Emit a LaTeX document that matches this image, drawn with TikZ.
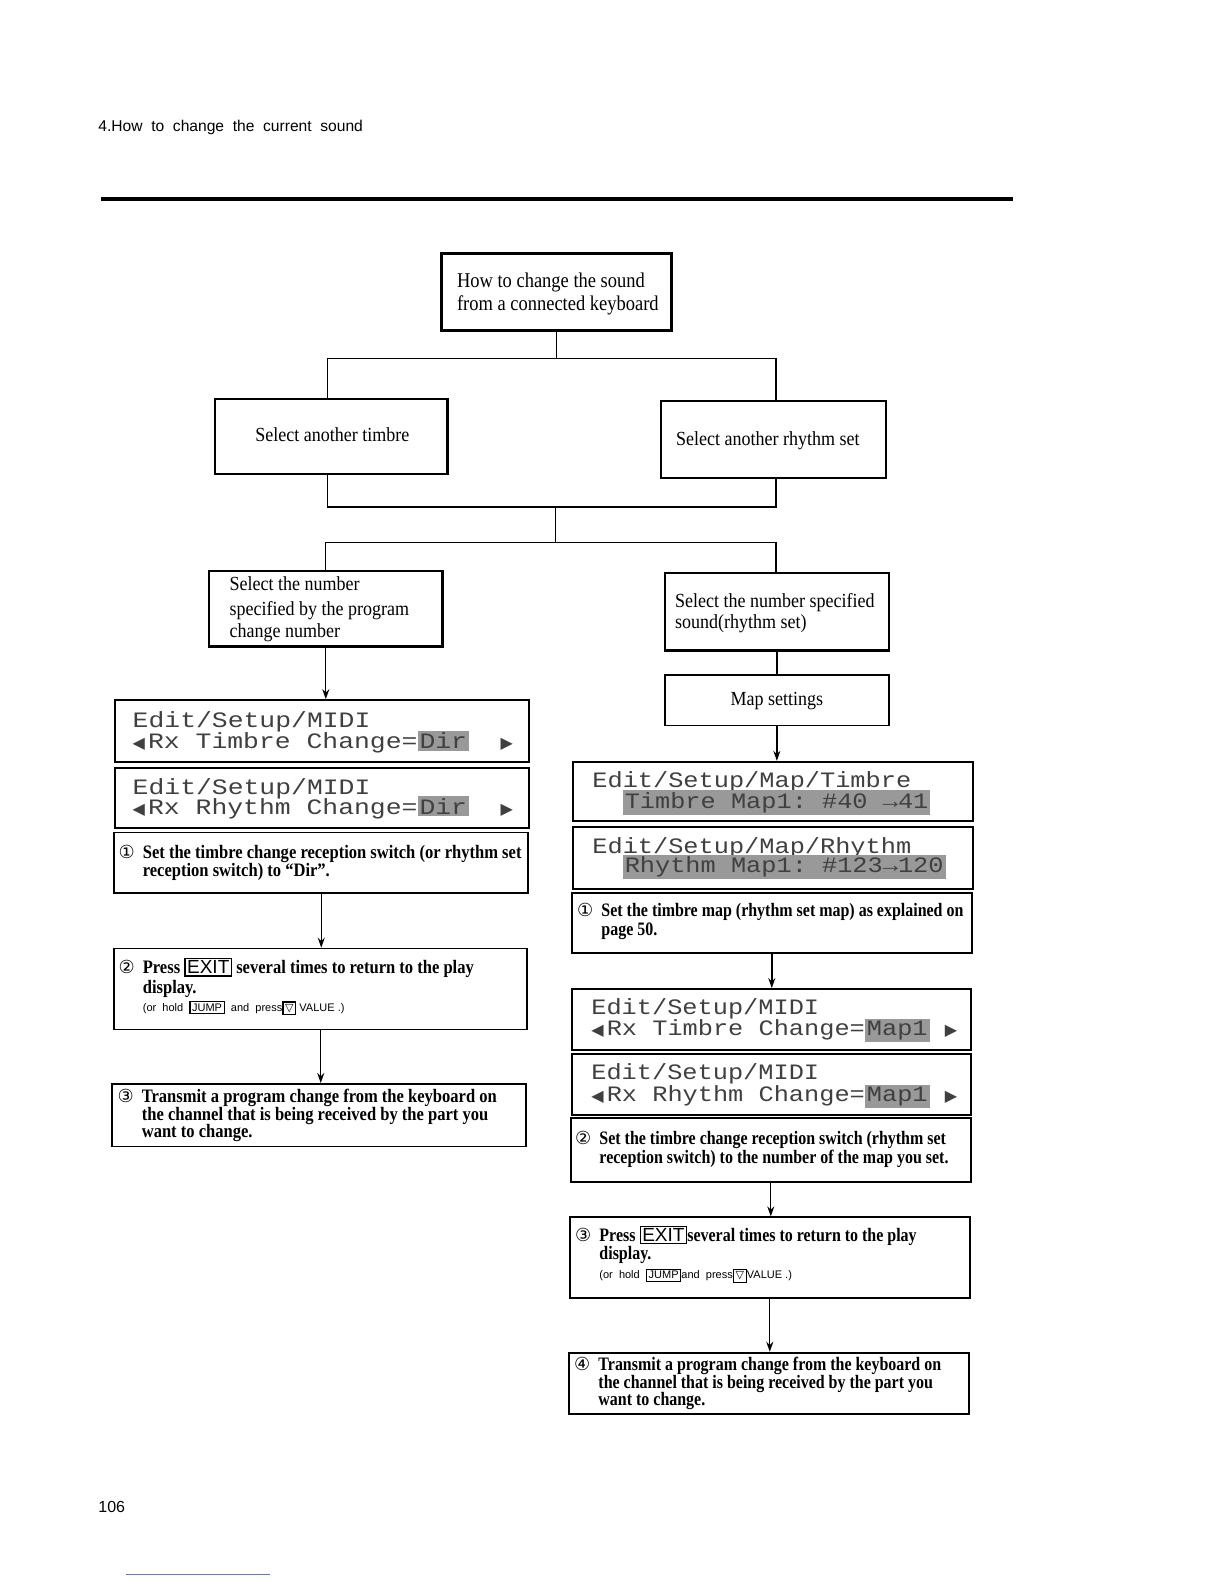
\documentclass[tikz,border=0pt]{standalone}
\usepackage{fontspec}
\setmainfont{Liberation Serif}
\newfontfamily\cserif[FakeStretch=0.9]{Liberation Serif}
\newfontfamily\tserif[FakeStretch=0.88]{Liberation Serif}
\newfontfamily\bserif[FakeStretch=0.87]{Liberation Serif}
\newfontfamily\bserifR[FakeStretch=0.84]{Liberation Serif}
\newfontfamily\lcdfont[FakeStretch=1.2]{Liberation Mono}
\newfontfamily\lcdfontR[FakeStretch=1.15]{Liberation Mono}
\newfontfamily\dv{DejaVu Sans}
\newfontfamily\hsans{Liberation Sans}
\usetikzlibrary{arrows.meta,fit}
\newcommand\lcdL{\makebox[0.7em][l]{\dv\fontsize{8}{8}\selectfont ◀}}
\newcommand\lcdR{\makebox[0.7em][l]{\dv\fontsize{8}{8}\selectfont ▶}}
\newcommand\hl[1]{{\setlength\fboxsep{1pt}\colorbox{black!40}{#1}}}
\newcommand\kcap[1]{{\setlength\fboxsep{0.8pt}\setlength\fboxrule{0.6pt}\fbox{\hsans\mdseries #1}}}
\newcommand\downkey{{\dv\mdseries ▽}}
\begin{document}
\begin{tikzpicture}[x=0.505pt,y=-0.505pt,
  box/.style={draw, line width=1.1pt, inner sep=0pt},
  lcdbox/.style={draw, line width=0.9pt, inner sep=0pt},
  conn/.style={line width=0.7pt},
  arr/.style={line width=0.7pt,-{Stealth[length=5pt,width=3.5pt]}},
  txt/.style={anchor=base west, inner sep=0pt},
  st/.style={txt, font=\cserif\fontsize{10}{12}\selectfont},
  tt/.style={txt, font=\tserif\fontsize{10.5}{12}\selectfont},
  bt/.style={txt, font=\bserif\bfseries\fontsize{9.5}{11}\selectfont},
  btr/.style={txt, font=\bserifR\bfseries\fontsize{9.5}{11}\selectfont},
  num/.style={txt, font=\dv\fontsize{9}{10}\selectfont},
  lt/.style={txt, font=\lcdfont\fontsize{11}{11}\selectfont, text=black!75},
  ltr/.style={txt, font=\lcdfontR\fontsize{11}{11}\selectfont, text=black!75},
  sm/.style={txt, font=\hsans\fontsize{5.5}{6}\selectfont}]
\useasboundingbox (0,0) rectangle (1212,1568);
% header
\node[txt, font=\hsans\fontsize{7.8}{9}\selectfont] (hdr) at (97,130) {4.How~ to~ change~ the~ current~ sound};
\draw[line width=1.6pt] (100,197) -- (1003,197);
\node[txt, font=\hsans\fontsize{8}{9}\selectfont] (pg) at (97,1497) {106};
\draw[line width=0.5pt, color={rgb,255:red,90;green,120;blue,210}] (125,1559) -- (267,1559);

% boxes
\node[box, line width=1.6pt, fit={(437,251)(665,327)}] (top) {};
\node[box, fit={(213,395)(443,469)}] (timb) {};
\node[box, fit={(654,397)(877,473)}] (rhy) {};
\node[box, fit={(207,565)(438,640)}] (selL) {};
\node[box, fit={(658,567)(880,644)}] (selR) {};
\node[box, line width=0.8pt, fit={(658,668)(880,718)}] (map) {};
\node[lcdbox, fit={(114,693)(524,754)}] (lcd1) {};
\node[lcdbox, fit={(114,760)(524,820)}] (lcd2) {};
\node[lcdbox, fit={(113,824)(523,884)}] (s1L) {};
\node[lcdbox, fit={(113,939)(522,1019)}] (s2L) {};
\node[lcdbox, fit={(111,1073)(521,1135)}] (s3L) {};
\node[lcdbox, fit={(567,754)(963,813)}] (lcd3) {};
\node[lcdbox, fit={(567,819)(963,880)}] (lcd4) {};
\node[lcdbox, fit={(566,884)(962,943)}] (s1R) {};
\node[lcdbox, fit={(566,979)(961,1039)}] (lcd5) {};
\node[lcdbox, fit={(566,1043)(961,1104)}] (lcd6) {};
\node[lcdbox, fit={(565,1107)(961,1170)}] (s2R) {};
\node[lcdbox, fit={(564,1205)(960,1285)}] (s3R) {};
\node[lcdbox, fit={(563,1339)(959,1400)}] (s4R) {};

% connectors (tree)
\coordinate (b1L) at (324,355); \coordinate (b1R) at (768,355);
\coordinate (b2L) at (324,502); \coordinate (b2R) at (768,502);
\coordinate (m2) at (550,502); \coordinate (m3) at (550,537);
\coordinate (b3L) at (322,537); \coordinate (b3R) at (768,537);
\draw[conn] (top.south) -- (top.south |- b1L);
\draw[conn] (b1L |- timb.north) -- (b1L) -- (b1R) -- (b1R |- rhy.north);
\draw[conn] (b2L |- timb.south) -- (b2L) -- (b2R) -- (b2R |- rhy.south);
\draw[conn] (m2) -- (m3);
\draw[conn] (b3L |- selL.north) -- (b3L) -- (b3R) -- (b3R |- selR.north);
\draw[arr] (selL.south) -- (selL.south |- lcd1.north);
\draw[arr] (s1L.south) -- (s1L.south |- s2L.north);
\draw[arr] (s2L.south) -- (s2L.south |- s3L.north);
\draw[conn] (selR.south) -- (selR.south |- map.north);
\draw[arr] (map.south) -- (map.south |- lcd3.north);
\draw[arr] (s1R.south) -- (s1R.south |- lcd5.north);
\draw[arr] (s2R.south) -- (s2R.south |- s3R.north);
\draw[arr] (s3R.south) -- (s3R.south |- s4R.north);

% top texts
\node[tt] (t1) at (452,285) {How to change the sound};
\node[tt] (t2) at (452,307) {from a connected keyboard};
\node[st, anchor=base] (tm) at (329,437) {Select another timbre};
\node[st] (rh) at (669,441) {Select another rhythm set};
\node[st] (sl1) at (227,585) {Select the number};
\node[st] (sl2) at (227,609) {specified by the program};
\node[st] (sl3) at (227,631) {change number};
\node[st] (sr1) at (668,601) {Select the number specified};
\node[st] (sr2) at (668,622) {sound(rhythm set)};
\node[st, anchor=base] (mp) at (769,698) {Map settings};

% LCDs
\node[lt] (l1a) at (131,720) {Edit/Setup/MIDI};
\node[lt] (l1b) at (131,741) {\lcdL Rx~Timbre~Change=\hl{Dir}~~\lcdR};
\node[lt] (l2a) at (131,786) {Edit/Setup/MIDI};
\node[lt] (l2b) at (131,806) {\lcdL Rx~Rhythm~Change=\hl{Dir}~~\lcdR};
\node[ltr] (l3a) at (586,780) {Edit/Setup/Map/Timbre};
\node[ltr] (l3b) at (586,800) {~~\hl{Timbre~Map1:~\#40~→41}};
\node[ltr] (l4a) at (586,845) {Edit/Setup/Map/Rhythm};
\node[ltr] (l4b) at (586,864) {~~\hl{Rhythm~Map1:~\#123→120}};
\node[ltr] (l5a) at (585,1004) {Edit/Setup/MIDI};
\node[ltr] (l5b) at (585,1025) {\lcdL Rx~Timbre~Change=\hl{Map1}~\lcdR};
\node[ltr] (l6a) at (585,1069) {Edit/Setup/MIDI};
\node[ltr] (l6b) at (585,1090) {\lcdL Rx~Rhythm~Change=\hl{Map1}~\lcdR};

% left steps
\node[num] (n1L) at (117,850) {①};
\node[bt] (a1) at (141,850) {Set the timbre change reception switch (or rhythm set};
\node[bt] (a2) at (141,868) {reception switch) to “Dir”.};
\node[num] (n2L) at (117,964) {②};
\node[bt] (b1) at (141,964) {Press \kcap{EXIT} several times to return to the play};
\node[bt] (b2) at (141,983) {display.};
\node[sm] (b3) at (141,1001) {(or~ hold~ \kcap{JUMP}~ and~ press\kcap{\downkey}~VALUE .)};
\node[num] (n3L) at (116,1091) {③};
\node[bt] (c1) at (140,1091) {Transmit a program change from the keyboard on};
\node[bt] (c2) at (140,1109) {the channel that is being received by the part you};
\node[bt] (c3) at (140,1126) {want to change.};

% right steps
\node[num] (n1R) at (571,907) {①};
\node[btr] (d1) at (595,907) {Set the timbre map (rhythm set map) as explained on};
\node[btr] (d2) at (595,926) {page 50.};
\node[num] (n2R) at (569,1133) {②};
\node[btr] (e1) at (593,1133) {Set the timbre change reception switch (rhythm set};
\node[btr] (e2) at (593,1152) {reception switch) to the number of the map you set.};
\node[num] (n3R) at (569,1229) {③};
\node[btr] (f1) at (593,1229) {Press \kcap{EXIT}several times to return to the play};
\node[btr] (f2) at (593,1247) {display.};
\node[sm] (f3) at (593,1266) {(or~ hold~ \kcap{JUMP}and~ press\kcap{\downkey}VALUE .)};
\node[num] (n4R) at (568,1357) {④};
\node[btr] (g1) at (592,1357) {Transmit a program change from the keyboard on};
\node[btr] (g2) at (592,1374) {the channel that is being received by the part you};
\node[btr] (g3) at (592,1391) {want to change.};
\end{tikzpicture}
\end{document}
